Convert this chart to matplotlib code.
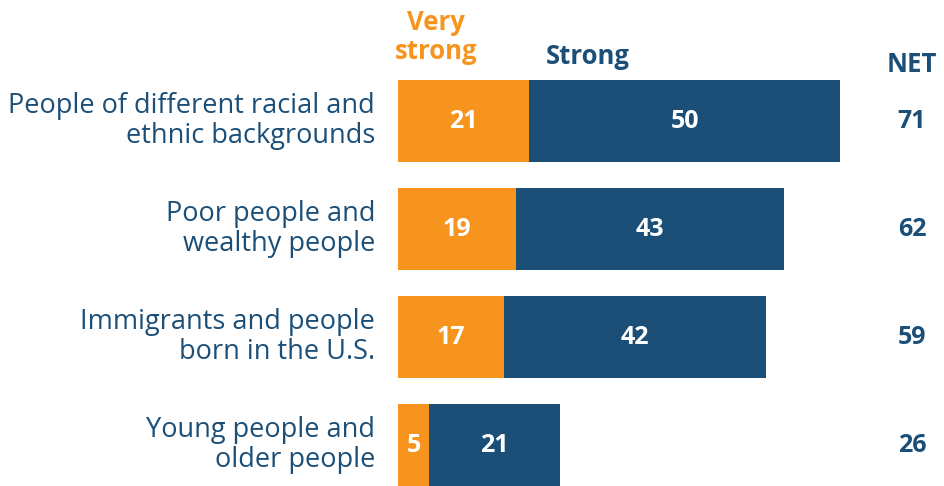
import matplotlib.pyplot as plt

plt.rcParams['font.family'] = ['Open Sans', 'DejaVu Sans']

categories = ["People of different racial and\nethnic backgrounds",
              "Poor people and\nwealthy people",
              "Immigrants and people\nborn in the U.S.",
              "Young people and\nolder people"]
very_strong = [21, 19, 17, 5]
strong = [50, 43, 42, 21]
net = [71, 62, 59, 26]

orange = "#F7941D"
navy = "#1B4F78"

W, H = 945, 486
fig = plt.figure(figsize=(W / 100, H / 100), dpi=100)

# axes in pixel-ish layout: bars start at x=398px, 6.23 px per point
x0 = 398
ppu = 6.23
ax = fig.add_axes([x0 / W, 0, (W - x0) / W, 1])
ax.set_xlim(0, (W - x0) / ppu)
spacing = 108
top = 121
ax.set_ylim((H - top) / spacing, -top / spacing)
ax.axis("off")

ys = list(range(len(categories)))
ax.barh(ys, very_strong, height=0.76, color=orange)
ax.barh(ys, strong, left=very_strong, height=0.76, color=navy)

for y, vs, s, n, cat in zip(ys, very_strong, strong, net, categories):
    ax.text(vs / 2, y, str(vs), color="white", fontsize=18, fontweight="bold",
            ha="center", va="center")
    ax.text(vs + s / 2, y, str(s), color="white", fontsize=18, fontweight="bold",
            ha="center", va="center")
    ax.text((912 - x0) / ppu, y, str(n), color=navy, fontsize=18, fontweight="bold",
            ha="center", va="center")
    ax.text(-23 / ppu, y, cat, color=navy, fontsize=19.5, ha="right", va="center",
            linespacing=1.12)

# column headers
fig.text(436 / W, 1 - 37 / H, "Very\nstrong", color=orange, fontsize=18.5,
         fontweight="bold", ha="center", va="center", linespacing=1.05)
fig.text(588 / W, 1 - 56 / H, "Strong", color=navy, fontsize=18.5,
         fontweight="bold", ha="center", va="center")
fig.text(912 / W, 1 - 64 / H, "NET", color=navy, fontsize=18.5,
         fontweight="bold", ha="center", va="center")

fig.savefig("out.png", dpi=100, facecolor="white")
